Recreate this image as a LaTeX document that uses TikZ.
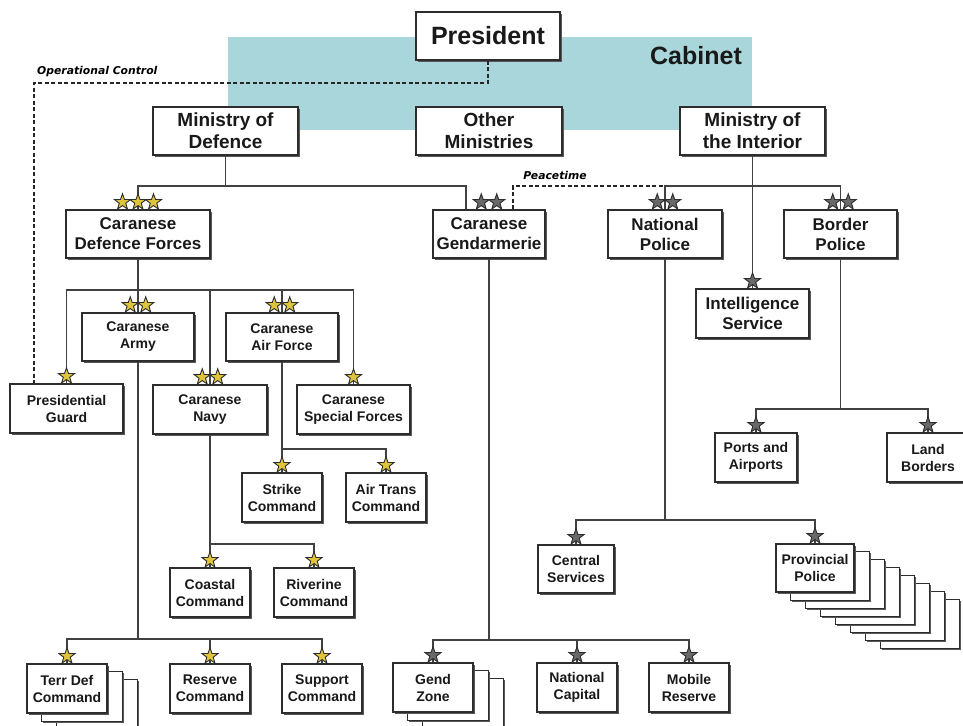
\documentclass[tikz,border=0pt]{standalone}
\usepackage{fontspec}
\setmainfont{Liberation Sans}
\newfontfamily\notefont{DejaVu Sans}
\usetikzlibrary{calc,shadows,backgrounds}

\definecolor{cabinetbg}{RGB}{168,214,218}
\definecolor{edge}{RGB}{45,45,45}
\definecolor{linkc}{RGB}{65,65,65}
\definecolor{gold}{RGB}{222,196,60}
\definecolor{steel}{RGB}{105,105,105}

\tikzset{
  orgbox/.style={draw=edge, fill=white, line width=1.2pt, align=center,
    inner sep=0pt, text=black!90,
    font=\bfseries\fontsize{14}{17}\selectfont,
    drop shadow={shadow xshift=1.6pt, shadow yshift=-1.6pt, fill=black!65, opacity=1}},
  unitbox/.style={orgbox, minimum width=80pt, minimum height=49pt},
  branchbox/.style={orgbox, minimum height=48pt},
  forcebox/.style={orgbox, minimum height=48pt,
    font=\bfseries\fontsize{17}{20}\selectfont},
  ministrybox/.style={orgbox, minimum width=145pt, minimum height=48pt,
    font=\bfseries\fontsize{19}{22}\selectfont},
  card/.style={draw=edge, fill=white, line width=1.2pt,
    drop shadow={shadow xshift=1.6pt, shadow yshift=-1.6pt, fill=black!65, opacity=1}},
  link/.style={draw=linkc, line width=1.4pt},
  dashlink/.style={draw=black!85, line width=1.4pt, dash pattern=on 4pt off 2.5pt},
  note/.style={font=\notefont\bfseries\itshape\fontsize{10.8}{12}\selectfont, inner sep=0pt},
  goldstar/.style={fill=gold, draw=edge, line width=0.9pt, line join=miter},
  greystar/.style={fill=steel, draw=edge, line width=0.9pt, line join=miter},
  pics/rankstar/.style={code={
    \path[#1] (-90:8.4) -- (-54:3.4) -- (-18:8.4) -- (18:3.4) -- (54:8.4) -- (90:3.4)
      -- (126:8.4) -- (162:3.4) -- (198:8.4) -- (234:3.4) -- cycle;}}
}

% a row of rank stars resting on the top edge of a box
\newcommand\rankstars[3]{%
  \foreach \k in {1,...,#2}{
    \pic at ($(#1.north)+({(\k-(#2+1)/2)*15.5},-7.2)$) {rankstar=#3};
  }}

% copies stacked behind a box, each shifted right and down
\newcommand\cardstack[2]{%
  \begin{scope}[on background layer]
    \foreach \k in {#2,...,1}{
      \path[card] ($(#1.north west)+(15*\k,8*\k)$) rectangle ($(#1.south east)+(15*\k,8*\k)$);
    }
  \end{scope}}

\begin{document}
\begin{tikzpicture}[x=1pt, y=-1pt]
\useasboundingbox (0,0) rectangle (963,725);

% cabinet band
\fill[cabinetbg] (228,37) rectangle (752,130);
\node[font=\bfseries\fontsize{25}{28}\selectfont, text=black!90, inner sep=0pt] (cabinet) at (696,56) {Cabinet};

% government level
\node[orgbox, minimum width=144pt, minimum height=48pt,
      font=\bfseries\fontsize{25}{28}\selectfont] (pres) at (488,36) {President};
\node[ministrybox] (mod) at (225.5,131) {Ministry of\\Defence};
\node[ministrybox, minimum width=146pt] (oth) at (489,131) {Other\\Ministries};
\node[ministrybox] (moi) at (752.5,131) {Ministry of\\the Interior};

% services
\node[forcebox, minimum width=144pt] (cdf) at (138,234) {Caranese\\Defence Forces};
\node[forcebox, minimum width=112pt] (gend) at (489,234) {Caranese\\Gendarmerie};
\node[forcebox, minimum width=114pt] (natpol) at (665,234) {National\\Police};
\node[forcebox, minimum width=113pt] (border) at (840.5,234) {Border\\Police};
\node[forcebox, minimum width=113pt, minimum height=49pt] (intel) at (752.5,313.5) {Intelligence\\Service};

% armed forces branches
\node[branchbox, minimum width=112pt] (army) at (138,337) {Caranese\\Army};
\node[branchbox, minimum width=112pt] (airf) at (282,337) {Caranese\\Air Force};
\node[branchbox, minimum width=113pt, minimum height=49pt] (pguard) at (66.5,408.5) {Presidential\\Guard};
\node[branchbox, minimum width=114pt, minimum height=49pt] (navy) at (210,409.5) {Caranese\\Navy};
\node[branchbox, minimum width=113pt, minimum height=49pt] (spec) at (353.5,409.5) {Caranese\\Special Forces};

% commands
\node[unitbox] (strike) at (282,497.5) {Strike\\Command};
\node[unitbox] (airtrans) at (386,497.5) {Air Trans\\Command};
\node[unitbox] (coastal) at (210,592.5) {Coastal\\Command};
\node[unitbox] (riverine) at (314,592.5) {Riverine\\Command};
\node[unitbox] (terrdef) at (67,688.5) {Terr Def\\Command};
\node[unitbox] (reserve) at (210,688.5) {Reserve\\Command};
\node[unitbox] (support) at (322,688.5) {Support\\Command};

% gendarmerie and police units
\node[unitbox] (gendzone) at (433,687.5) {Gend\\Zone};
\node[unitbox] (natcap) at (577,687.5) {National\\Capital};
\node[unitbox] (mobile) at (689,687.5) {Mobile\\Reserve};
\node[unitbox, minimum width=76pt, minimum height=48pt] (central) at (576,569) {Central\\Services};
\node[unitbox, minimum width=78pt, minimum height=48pt] (prov) at (815,568) {Provincial\\Police};
\node[unitbox, minimum width=82pt] (ports) at (756,457.5) {Ports and\\Airports};
\node[unitbox, minimum width=82pt] (land) at (928,457.5) {Land\\Borders};

\cardstack{terrdef}{2}
\cardstack{gendzone}{2}
\cardstack{prov}{7}

% bus junctions
\coordinate (modbus) at (225.5,186);
\coordinate (gdrop) at (466,186);
\coordinate (moibus) at (840.5,186);
\coordinate (peace) at (513,186);
\coordinate (opc) at (34,83);
\coordinate (cdfbus) at (138,290);
\coordinate (afbus) at (282,449);
\coordinate (navybus) at (210,544);
\coordinate (armybus) at (138,639);
\coordinate (gendbus) at (489,640);
\coordinate (npbus) at (665,520);
\coordinate (bpbus) at (840.5,409);

% solid chains of command
\draw[link] (mod.south) -- (modbus);
\draw[link] (cdf.north) |- (gdrop) -- (gdrop |- gend.north);
\draw[link] (moi.south) -- (intel.north);
\draw[link] (natpol.north) |- (moibus) -- (border.north);

\draw[link] (cdf.south) -- (army.north);
\draw[link] (pguard.north) |- (cdfbus) -| (spec.north);
\draw[link] (navy.north) -- (navy.north |- cdfbus);
\draw[link] (airf.north) -- (airf.north |- cdfbus);

\draw[link] (airf.south) -- (strike.north);
\draw[link] (afbus) -| (airtrans.north);
\draw[link] (navy.south) -- (coastal.north);
\draw[link] (navybus) -| (riverine.north);
\draw[link] (army.south) -- (armybus);
\draw[link] (terrdef.north) |- (armybus) -| (support.north);
\draw[link] (reserve.north) -- (reserve.north |- armybus);

\draw[link] (gend.south) -- (gendbus);
\draw[link] (gendzone.north) |- (gendbus) -| (mobile.north);
\draw[link] (natcap.north) -- (natcap.north |- gendbus);

\draw[link] (natpol.south) -- (npbus);
\draw[link] (central.north) |- (npbus) -| (prov.north);
\draw[link] (border.south) -- (bpbus);
\draw[link] (ports.north) |- (bpbus) -| (land.north);

% dashed control lines
\draw[dashlink] (pres.south) |- (opc) -- (opc |- pguard.north);
\draw[dashlink] (peace |- gend.north) -- (peace) -- (natpol.north |- peace);
\node[note, anchor=west] (opclabel) at (37,72) {Operational Control};
\node[note] (peacelabel) at (555,175) {Peacetime};

% rank stars
\rankstars{cdf}{3}{goldstar}
\rankstars{army}{2}{goldstar}
\rankstars{airf}{2}{goldstar}
\rankstars{navy}{2}{goldstar}
\rankstars{pguard}{1}{goldstar}
\rankstars{spec}{1}{goldstar}
\rankstars{strike}{1}{goldstar}
\rankstars{airtrans}{1}{goldstar}
\rankstars{coastal}{1}{goldstar}
\rankstars{riverine}{1}{goldstar}
\rankstars{terrdef}{1}{goldstar}
\rankstars{reserve}{1}{goldstar}
\rankstars{support}{1}{goldstar}

\rankstars{gend}{2}{greystar}
\rankstars{natpol}{2}{greystar}
\rankstars{border}{2}{greystar}
\rankstars{intel}{1}{greystar}
\rankstars{ports}{1}{greystar}
\rankstars{land}{1}{greystar}
\rankstars{central}{1}{greystar}
\rankstars{prov}{1}{greystar}
\rankstars{gendzone}{1}{greystar}
\rankstars{natcap}{1}{greystar}
\rankstars{mobile}{1}{greystar}
\end{tikzpicture}
\end{document}
